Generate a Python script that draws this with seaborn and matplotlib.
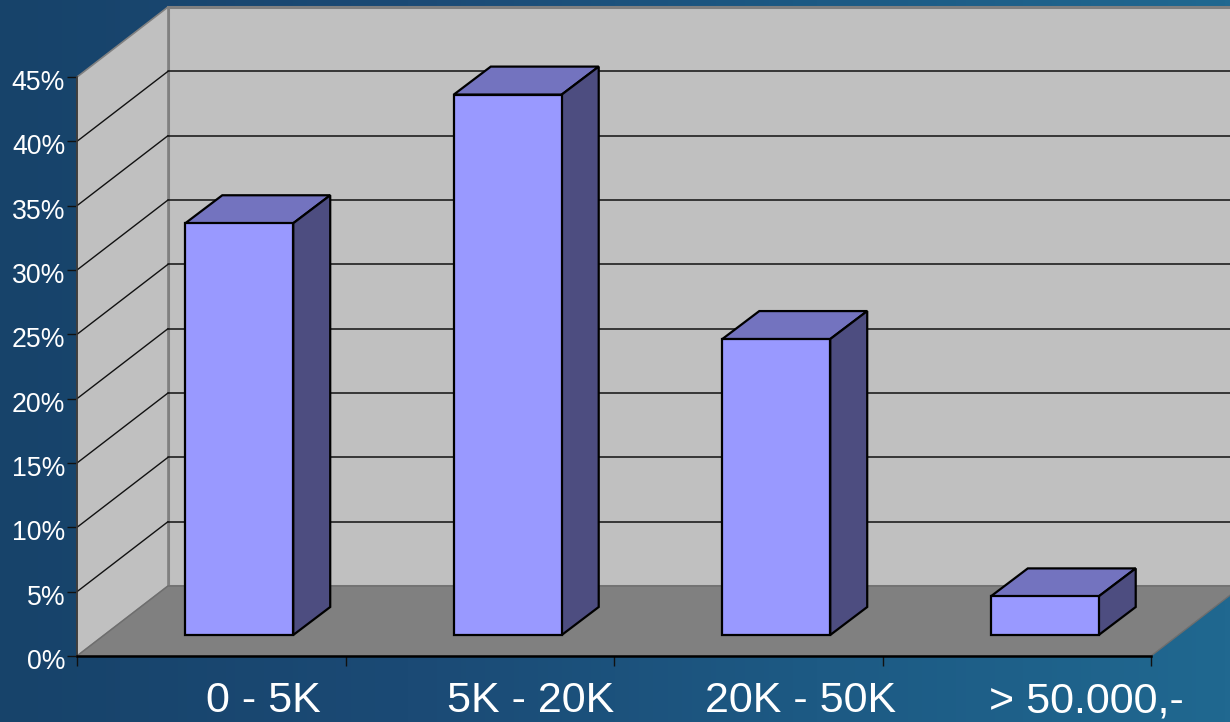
import numpy as np
import pandas as pd
import matplotlib
matplotlib.use('Agg')
import matplotlib.pyplot as plt
import seaborn as sns
from matplotlib.colors import LinearSegmentedColormap
from matplotlib.transforms import Affine2D, IdentityTransform

# DATA
categories = ['0 - 5K', '5K - 20K', '20K - 50K', '> 50.000,-']
shares = [32, 42, 23, 3]
y_ticks = [0, 5, 10, 15, 20, 25, 30, 35, 40, 45]
y_labels = ['0%', '5%', '10%', '15%', '20%', '25%', '30%', '35%', '40%', '45%']

# layout in pixels
W, H = 1230, 722
LEFT, RIGHT, BOTTOM, TOP = 77, 1151, 656, 77
WALL_DX, WALL_DY = 91, 70      # depth of the chart box
BAR_DX, BAR_DY = 28, 21        # bar front face, in from the front plane
SIDE_DX, SIDE_DY = 37, 28      # depth of a bar
LABEL_DX = [52, 51, 52, 70]

sns.set_theme(style='white')
plt.rcParams['font.family'] = ['Liberation Sans', 'DejaVu Sans']

fig = plt.figure(figsize=(W / 100, H / 100), dpi=100)

# BACKGROUND
bg = fig.add_axes([0, 0, 1, 1], zorder=0)
cmap = LinearSegmentedColormap.from_list('slide', ['#17436a', '#1b4a75', '#1d5a84', '#206890'])
bg.imshow(np.linspace(0, 1, 256).reshape(1, -1), aspect='auto', cmap=cmap)
bg.axis('off')

# MAIN AXES = front plane of the box
ax = fig.add_axes([LEFT / W, 1 - BOTTOM / H, (RIGHT - LEFT) / W, (BOTTOM - TOP) / H], zorder=1)
ax.patch.set_alpha(0)

data = pd.DataFrame({'range': categories, 'share': shares})
sns.barplot(data=data, x='range', y='share', color='#9999ff', saturation=1,
            width=0.402, edgecolor='black', linewidth=1.6, zorder=5, ax=ax)
ax.set_xlim(-0.5, 3.5)
ax.set_ylim(0, 45)
ax.set_xlabel('')
ax.set_ylabel('')


def shift(dx, dy):
    return ax.transData + Affine2D().translate(dx, dy)


def px(x, y, dx=0, dy=0):
    return ax.transData.transform((x, y)) + (dx, dy)


def face(points, color, zorder, edge='none', lw=0):
    ax.fill(*zip(*points), facecolor=color, edgecolor=edge, linewidth=lw,
            transform=IdentityTransform(), clip_on=False, zorder=zorder, joinstyle='miter')


# WALLS AND FLOOR
x0, x1 = -0.5, 3.5
face([px(x0, 0, WALL_DX, WALL_DY), px(x1, 0, WALL_DX, WALL_DY),
      px(x1, 45, WALL_DX, WALL_DY), px(x0, 45, WALL_DX, WALL_DY)], '#c0c0c0', 1, '#808080', 2.2)
face([px(x0, 0), px(x0, 45), px(x0, 45, WALL_DX, WALL_DY), px(x0, 0, WALL_DX, WALL_DY)],
     '#c0c0c0', 1, '#808080', 1.2)
face([px(x0, 0), px(x1, 0), px(x1, 0, WALL_DX, WALL_DY), px(x0, 0, WALL_DX, WALL_DY)],
     '#808080', 2, '#6e6e6e', 1)

# GRIDLINES
for v in y_ticks[1:-1]:
    ax.plot([x0, x1], [v, v], color='#111111', lw=1.1, transform=shift(WALL_DX, WALL_DY),
            clip_on=False, zorder=3)
    start, end = px(x0, v), px(x0, v, WALL_DX, WALL_DY)
    ax.plot([start[0], end[0]], [start[1], end[1]], color='#111111', lw=1,
            transform=IdentityTransform(), clip_on=False, zorder=3)

# 3D BARS
for bar in ax.patches:
    if not isinstance(bar, matplotlib.patches.Rectangle):
        continue
    bx0, bx1 = bar.get_x(), bar.get_x() + bar.get_width()
    top = bar.get_height()
    bar.set_transform(shift(BAR_DX, BAR_DY))
    bar.set_clip_on(False)
    a = px(bx0, top, BAR_DX, BAR_DY)
    b = px(bx1, top, BAR_DX, BAR_DY)
    c = px(bx1, 0, BAR_DX, BAR_DY)
    depth = (SIDE_DX, SIDE_DY)
    face([a, b, b + depth, a + depth], '#7373bf', 4, 'black', 1.6)
    face([b, c, c + depth, b + depth], '#4d4d80', 4, 'black', 1.6)

# AXES
for name in ['top', 'right']:
    ax.spines[name].set_visible(False)
ax.spines['left'].set_color('#333333')
ax.spines['left'].set_linewidth(1.2)
ax.spines['bottom'].set_color('black')
ax.spines['bottom'].set_linewidth(1.8)
for sp in ax.spines.values():
    sp.set_zorder(6)

ax.set_yticks(y_ticks, y_labels)
ax.tick_params(axis='y', left=True, length=7.5, width=1, color='#111111', pad=1,
               labelsize=19.2, labelcolor='white')
for label in ax.get_yticklabels():
    label.set_transform(label.get_transform() + Affine2D().translate(0, -3))

ax.set_xticks(np.arange(5) - 0.5, [''] * 5)
ax.tick_params(axis='x', which='major', bottom=True, length=7.5, width=1, color='#111111')
ax.set_xticks(range(4), categories, minor=True)
ax.tick_params(axis='x', which='minor', bottom=False, length=0, pad=18,
               labelsize=31, labelcolor='white')
for label, dx in zip(ax.get_xticklabels(minor=True), LABEL_DX):
    label.set_transform(label.get_transform() + Affine2D().translate(dx, 0))

fig.savefig('out.png', dpi=100)
